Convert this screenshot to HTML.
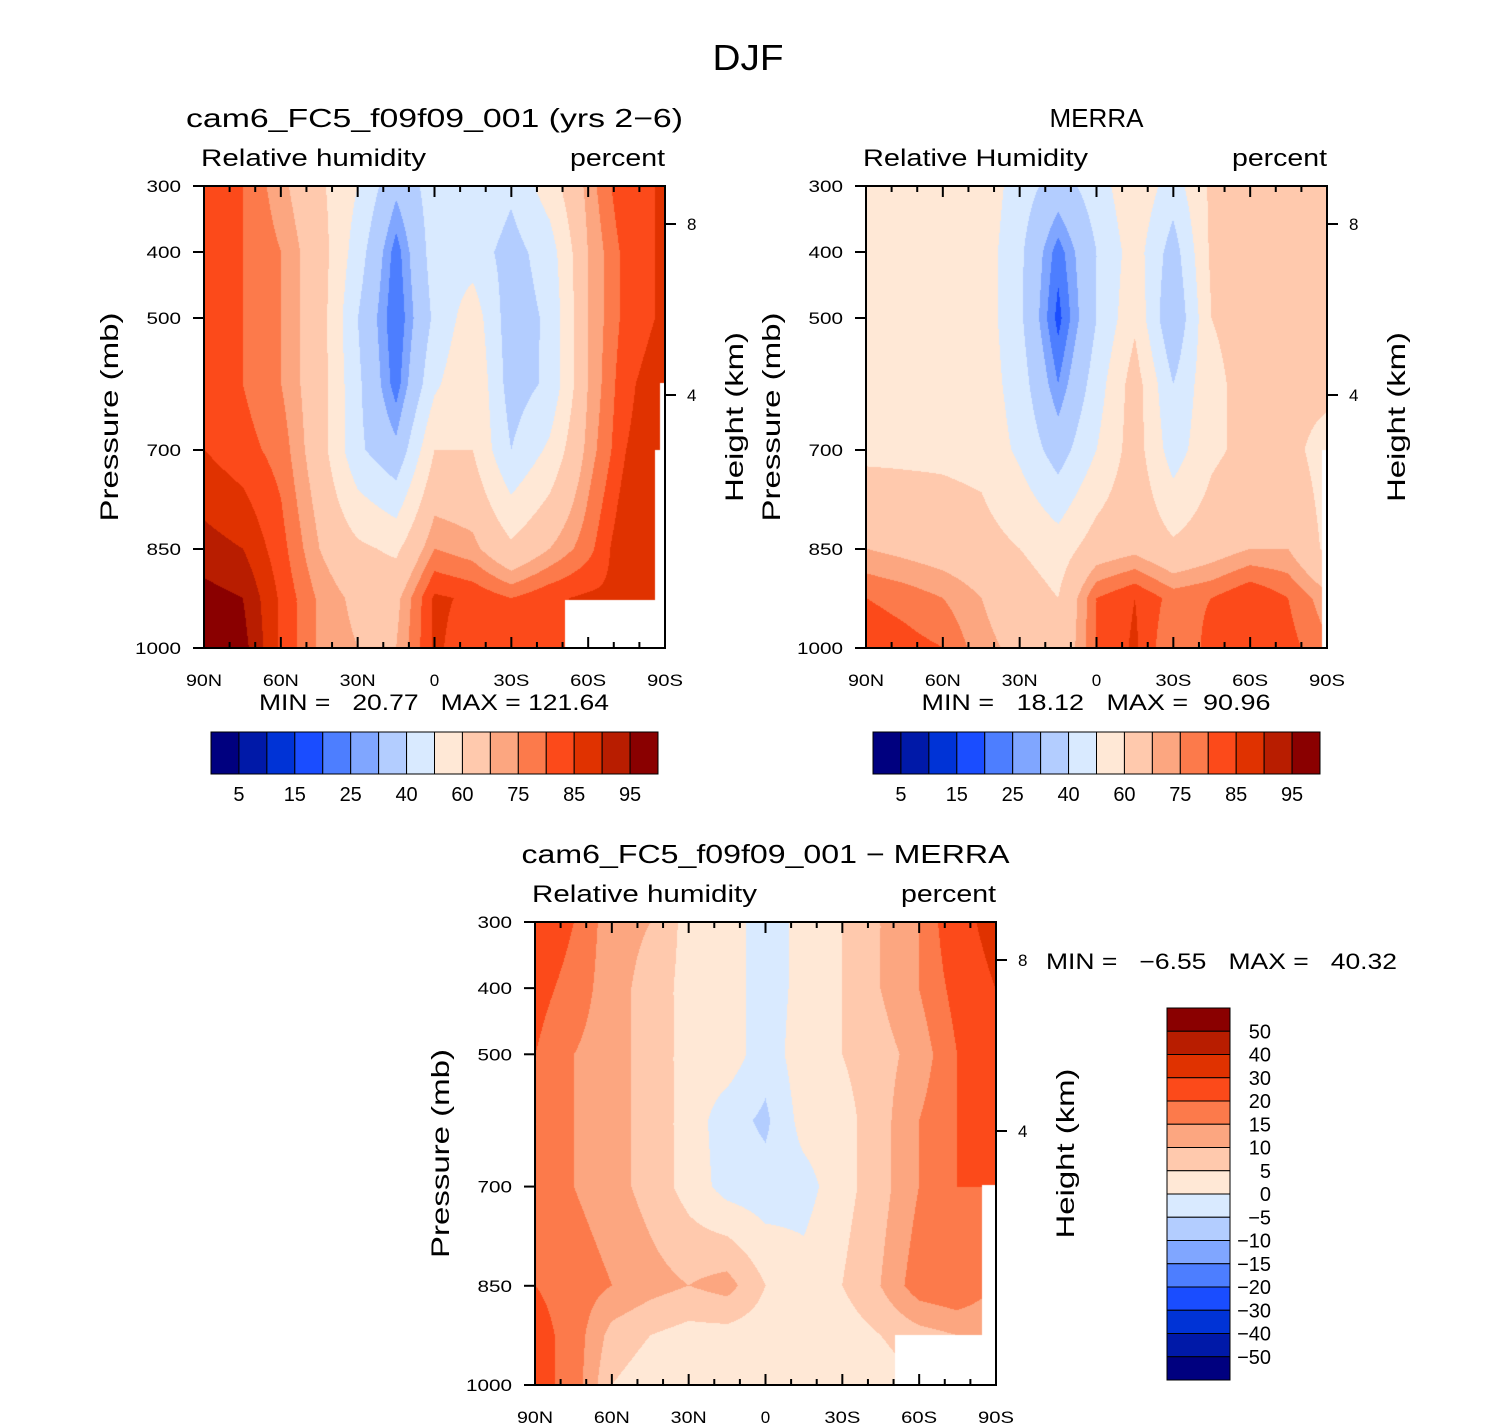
<!DOCTYPE html>
<html><head><meta charset="utf-8">
<style>
html,body{margin:0;padding:0;background:#fff;}
#wrap{position:relative;width:1498px;height:1428px;overflow:hidden;font-family:"Liberation Sans",sans-serif;}
canvas{position:absolute;}
svg{position:absolute;left:0;top:0;}
text{font-family:"Liberation Sans",sans-serif;fill:#000;white-space:pre;}
</style></head><body>
<div id="wrap">
<canvas id="c1" width="461" height="462" style="left:204px;top:186px"></canvas>
<canvas id="c2" width="461" height="462" style="left:866px;top:186px"></canvas>
<canvas id="c3" width="461" height="463" style="left:535px;top:922px"></canvas>
<svg id="s" width="1498" height="1428"></svg>
</div>
<script>
// ---- data ----
const lats = [90,75,60,45,30,15,0,-15,-30,-45,-60,-75,-90];
const plevs = [300,400,500,600,700,850,925,1000];
const rhLevels = [5,10,15,20,25,30,40,50,60,70,75,80,85,90,95];
const rhLabels = ["5","15","25","40","60","75","85","95"];
const diffLevels = [-50,-40,-30,-20,-15,-10,-5,0,5,10,15,20,30,40,50];
const diffLabels = ["50","40","30","20","15","10","5","0","\u22125","\u221210","\u221215","\u221220","\u221230","\u221240","\u221250"];
const colors = ["#00007f","#0019a8","#0033d6","#1a4dff","#4d7eff","#80a6ff","#b3cdff","#d9eaff",
                "#ffe8d6","#ffc9ad","#fca680","#fc7a4b","#fc4a1a","#e03200","#b81d00","#8a0000"];
const modelRH = [
 [82,80,72,62,50,32,45,50,42,55,72,85,85],
 [85,80,75,65,45,22,45,45,36,45,70,82,86],
 [82,80,75,65,40,20,42,56,34,42,70,82,86],
 [82,80,75,65,42,22,48,60,35,42,70,84,88],
 [85,82,78,65,42,32,60,60,40,52,72,85,88],
 [92,90,82,70,62,58,75,72,62,70,78,90,88],
 [97,95,84,74,68,68,86,84,80,84,86,86,86],
 [98,97,84,74,70,70,86,82,80,84,84,84,84]];
const merraRH = [
 [57,57,57,57,45,35,45,58,45,62,63,63,63],
 [57,57,57,56,42,22,40,55,35,62,63,63,63],
 [57,57,57,56,42,18,40,58,30,60,63,63,63],
 [57,57,57,56,45,25,45,65,40,58,63,63,63],
 [58,58,58,57,48,35,50,65,45,58,63,63,56],
 [70,68,66,64,60,55,65,68,62,66,70,70,58],
 [80,78,75,70,65,60,80,85,78,80,85,80,72],
 [84,82,80,72,68,62,80,86,75,82,85,82,76]];
const diffRH = [
 [25,20,12,10,3,3,-3,2,5,10,15,25,35],
 [22,18,12,8,3,3,-3,2,5,10,15,22,30],
 [20,15,12,8,3,3,-3,3,5,8,12,20,22],
 [20,15,12,8,3,-3,-6,2,3,8,15,20,25],
 [20,15,12,8,3,-2,-3,-2,3,8,15,20,20],
 [20,18,15,12,10,12,5,2,5,10,18,20,15],
 [22,18,8,5,3,3,2,0,2,5,8,10,10],
 [22,18,5,2,1,2,2,1,0,2,5,8,8]];

function hex(c){return [parseInt(c.substr(1,2),16),parseInt(c.substr(3,2),16),parseInt(c.substr(5,2),16)];}
function sample(grid,lat,p){
  let fx=(90-lat)/15; let i=Math.min(11,Math.floor(fx)); let tx=fx-i;
  let j=0; while(j<plevs.length-2&&p>plevs[j+1])j++;
  let ty=(p-plevs[j])/(plevs[j+1]-plevs[j]); ty=Math.max(0,Math.min(1,ty));
  const a=grid[j][i],b=grid[j][i+1],c=grid[j+1][i],d=grid[j+1][i+1];
  return (a*(1-tx)+b*tx)*(1-ty)+(c*(1-tx)+d*tx)*ty;
}
function drawPanel(id,grid,levels,masks){
  const cv=document.getElementById(id),ctx=cv.getContext('2d');
  const W=cv.width,H=cv.height,img=ctx.createImageData(W,H);
  const rgb=colors.map(hex);
  for(let y=0;y<H;y++){const p=300+700*y/(H-1);
    for(let x=0;x<W;x++){const lat=90-180*x/(W-1);
      const v=sample(grid,lat,p);let k=0;while(k<levels.length&&v>=levels[k])k++;
      const o=(y*W+x)*4;img.data[o]=rgb[k][0];img.data[o+1]=rgb[k][1];img.data[o+2]=rgb[k][2];img.data[o+3]=255;}}
  ctx.putImageData(img,0,0);
  ctx.fillStyle="#fff";masks.forEach(m=>ctx.fillRect(m[0],m[1],m[2],m[3]));
}
drawPanel('c1',modelRH,rhLevels,[[361,414,100,48],[451,264,10,198],[456,197,5,67]]);
drawPanel('c2',merraRH,rhLevels,[[456,264,5,198]]);
drawPanel('c3',diffRH,diffLevels,[[360,413,101,50],[447,263,14,200]]);

// ---- annotations ----
const S=document.getElementById('s');const NS="http://www.w3.org/2000/svg";
function el(tag,attrs,txt){const e=document.createElementNS(NS,tag);for(const k in attrs)e.setAttribute(k,attrs[k]);if(txt!==undefined)e.textContent=txt;S.appendChild(e);return e;}
function T(x,y,s,size,anchor,name,rot,w){const a={x:x,y:y,'font-size':size,'text-anchor':anchor||'start'};if(rot)a.transform='rotate(-90 '+x+' '+y+')';
  if(w){a.textLength=w;a.lengthAdjust='spacingAndGlyphs';}
  const e=el('text',a,s);
  
  return e;}
const xl=["90N","60N","30N","0","30S","60S","90S"];
function axes(L,Tp,W,H,ttl,ttlW,sub,tag){
  const g=el('rect',{x:L,y:Tp,width:W,height:H,fill:'none',stroke:'#000','stroke-width':2});
  
  
  for(let i=0;i<=18;i++){const x=L+W*i/18,len=(i%3==0)?11:6;
    el('line',{x1:x,y1:Tp,x2:x,y2:Tp+len,stroke:'#000','stroke-width':2});
    el('line',{x1:x,y1:Tp+H,x2:x,y2:Tp+H-len,stroke:'#000','stroke-width':2});}
  xl.forEach((s,i)=>T(L+W*i/6,Tp+H+38,s,17,'middle',tag+'-x-tick-label',false,s.length>1?s.length*12:0));
  [300,400,500,700,850,1000].forEach(p=>{const y=Tp+H*(p-300)/700;
    el('line',{x1:L-11,y1:y,x2:L,y2:y,stroke:'#000','stroke-width':2});
    T(L-23,y+6,String(p),17,'end',tag+'-y-tick-label',false,String(p).length*11.5);});
  [[8,38],[4,209]].forEach(h=>{el('line',{x1:L+W,y1:Tp+h[1],x2:L+W+11,y2:Tp+h[1],stroke:'#000','stroke-width':2});
    T(L+W+22,Tp+h[1]+6,String(h[0]),17,'start',tag+'-height-tick-label');});
  T(L+W/2,Tp-59,ttl,26,'middle',tag+'-title',false,ttlW);
  T(L-3,Tp-20,sub,24,'start',tag+'-variable-label',false,225);
  T(L+W,Tp-20,'percent',24,'end',tag+'-units-label',false,95);
  T(L-86,Tp+H/2,'Pressure (mb)',25,'middle',tag+'-y-axis-title',true,209);
  T(L+W+78,Tp+H/2,'Height (km)',25,'middle',tag+'-height-axis-title',true,170);
}
T(748,70,'DJF',36,'middle','figure-title',false,71);
axes(204,186,461,462,'cam6_FC5_f09f09_001 (yrs 2\u22126)',497,'Relative humidity','p1');
axes(866,186,461,462,'MERRA',94,'Relative Humidity','p2');
axes(535,922,461,463,'cam6_FC5_f09f09_001 \u2212 MERRA',488,'Relative humidity','p3');
T(434,710,'MIN =   20.77   MAX = 121.64',22,'middle','p1-min-max',false,350);
T(1096,710,'MIN =   18.12   MAX =  90.96',22,'middle','p2-min-max',false,349);
T(1046,969,'MIN =   \u22126.55   MAX =   40.32',22,'start','p3-min-max',false,351);
function hbar(L,name){const w=447/16;
  colors.forEach((c,i)=>{const r=el('rect',{x:L+i*w,y:732,width:w,height:42,fill:c,stroke:'#000','stroke-width':1});
    
    });
  rhLabels.forEach((s,i)=>T(L+(2*i+1)*w,801,s,20,'middle',name+'-label'));}
hbar(211,'p1-colorbar');hbar(873,'p2-colorbar');
const vh=372/16;
colors.slice().reverse().forEach((c,i)=>{const r=el('rect',{x:1167,y:1008+i*vh,width:63,height:vh,fill:c,stroke:'#000','stroke-width':1});
  
  });
diffLabels.forEach((s,i)=>T(1271,1008+(i+1)*vh+7,s,20,'end','p3-colorbar-label'));
</script>
</body></html>
